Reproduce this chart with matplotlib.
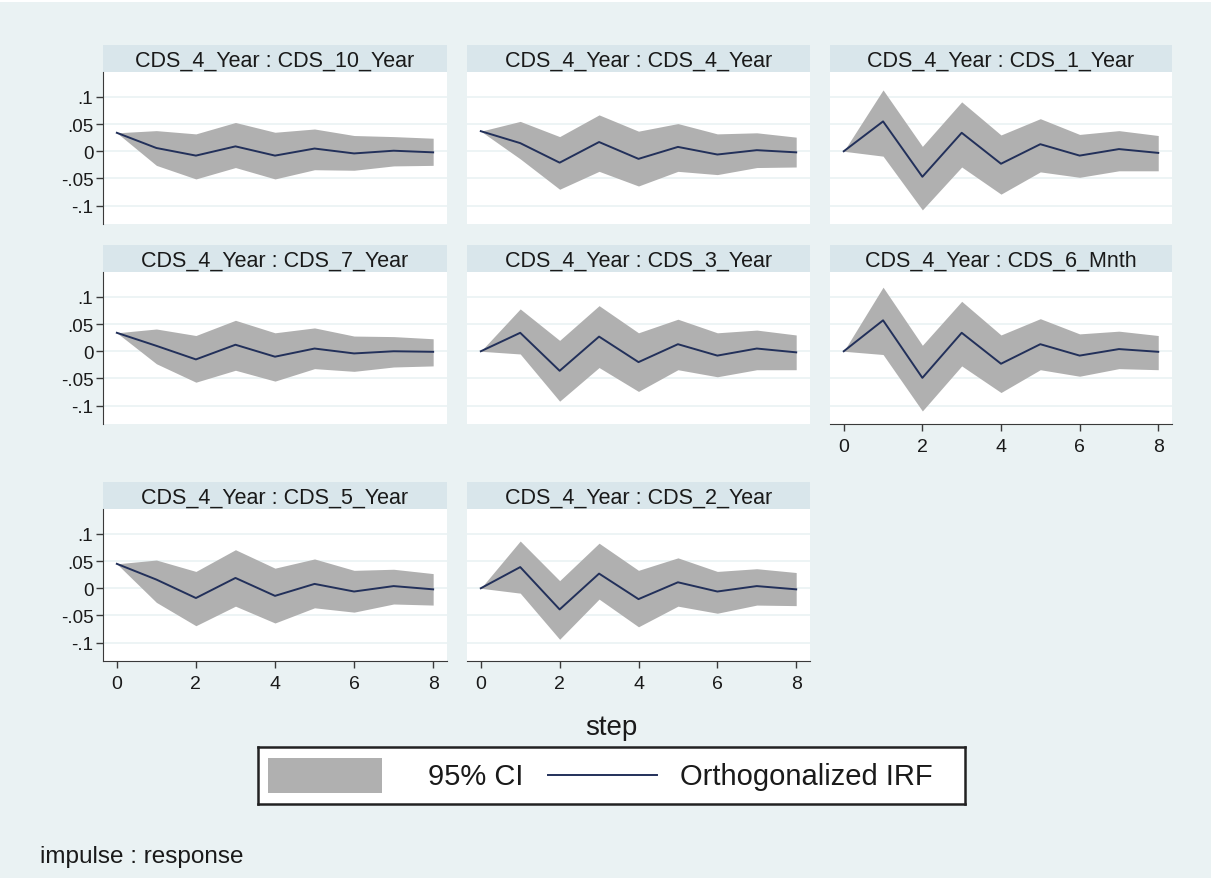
import numpy as np
import matplotlib.pyplot as plt
from matplotlib.patches import Rectangle
from matplotlib.lines import Line2D

plt.rcParams['font.family'] = ['Liberation Sans', 'DejaVu Sans']

steps = [0, 1, 2, 3, 4, 5, 6, 7, 8]

titles = ["CDS_4_Year : CDS_10_Year", "CDS_4_Year : CDS_4_Year", "CDS_4_Year : CDS_1_Year",
          "CDS_4_Year : CDS_7_Year", "CDS_4_Year : CDS_3_Year", "CDS_4_Year : CDS_6_Mnth",
          "CDS_4_Year : CDS_5_Year", "CDS_4_Year : CDS_2_Year"]

# orthogonalized irf, one list per panel
irf_10y = [0.034, 0.006, -0.008, 0.009, -0.008, 0.005, -0.004, 0.001, -0.002]
irf_4y = [0.037, 0.015, -0.021, 0.017, -0.014, 0.008, -0.006, 0.002, -0.002]
irf_1y = [0.0, 0.055, -0.047, 0.034, -0.023, 0.013, -0.008, 0.004, -0.003]
irf_7y = [0.034, 0.010, -0.015, 0.012, -0.010, 0.005, -0.004, 0.000, -0.001]
irf_3y = [0.0, 0.034, -0.036, 0.027, -0.020, 0.013, -0.008, 0.005, -0.002]
irf_6m = [0.0, 0.057, -0.049, 0.034, -0.023, 0.013, -0.008, 0.004, -0.001]
irf_5y = [0.045, 0.016, -0.018, 0.019, -0.014, 0.008, -0.006, 0.004, -0.002]
irf_2y = [0.0, 0.039, -0.039, 0.027, -0.020, 0.011, -0.006, 0.004, -0.002]

# 95% ci bounds
hi_10y = [0.034, 0.038, 0.032, 0.053, 0.035, 0.041, 0.029, 0.027, 0.024]
lo_10y = [0.034, -0.026, -0.051, -0.030, -0.051, -0.034, -0.035, -0.027, -0.026]
hi_4y = [0.037, 0.055, 0.027, 0.067, 0.037, 0.051, 0.032, 0.034, 0.026]
lo_4y = [0.037, -0.014, -0.070, -0.037, -0.064, -0.037, -0.043, -0.030, -0.029]
hi_1y = [0.0, 0.113, 0.009, 0.091, 0.030, 0.060, 0.031, 0.038, 0.029]
lo_1y = [0.0, -0.009, -0.108, -0.029, -0.079, -0.038, -0.048, -0.036, -0.036]
hi_7y = [0.034, 0.041, 0.029, 0.057, 0.034, 0.043, 0.028, 0.027, 0.023]
lo_7y = [0.034, -0.023, -0.057, -0.035, -0.055, -0.032, -0.037, -0.029, -0.027]
hi_3y = [0.0, 0.078, 0.020, 0.084, 0.034, 0.059, 0.034, 0.039, 0.030]
lo_3y = [0.0, -0.005, -0.092, -0.030, -0.074, -0.034, -0.047, -0.034, -0.034]
hi_6m = [0.0, 0.118, 0.011, 0.092, 0.030, 0.060, 0.032, 0.037, 0.029]
lo_6m = [0.0, -0.006, -0.110, -0.027, -0.076, -0.034, -0.046, -0.032, -0.034]
hi_5y = [0.045, 0.052, 0.031, 0.071, 0.037, 0.054, 0.033, 0.035, 0.027]
lo_5y = [0.045, -0.026, -0.069, -0.033, -0.064, -0.036, -0.044, -0.029, -0.031]
hi_2y = [0.0, 0.087, 0.014, 0.083, 0.033, 0.056, 0.031, 0.036, 0.029]
lo_2y = [0.0, -0.009, -0.094, -0.020, -0.071, -0.033, -0.046, -0.031, -0.032]

irfs = [irf_10y, irf_4y, irf_1y, irf_7y, irf_3y, irf_6m, irf_5y, irf_2y]
his = [hi_10y, hi_4y, hi_1y, hi_7y, hi_3y, hi_6m, hi_5y, hi_2y]
los = [lo_10y, lo_4y, lo_1y, lo_7y, lo_3y, lo_6m, lo_5y, lo_2y]

yticks = [-0.1, -0.05, 0, 0.05, 0.1]
ytick_labels = ["-.1", "-.05", "0", ".05", ".1"]
xticks = [0, 2, 4, 6, 8]

W, H = 1211, 879
bg = '#eaf2f3'
strip_col = '#d9e6eb'
line_col = '#22305a'
ci_col = '#b0b0b0'
axis_col = '#3a3a3a'
txt_col = '#1a1a1a'

fig = plt.figure(figsize=(W / 100, H / 100), dpi=100)
fig.patch.set_facecolor(bg)


def rect(x0, y0, x1, y1):
    # pixel box (top-left origin) -> figure fraction
    return [x0 / W, 1 - y1 / H, (x1 - x0) / W, (y1 - y0) / H]


cols = [(103, 447), (467, 810), (830, 1172)]
rows = [(46, 73, 225), (246, 273, 425), (483, 510, 662)]

for i in range(8):
    r, c = divmod(i, 3)
    x0, x1 = cols[c]
    st, top, bot = rows[r]

    sax = fig.add_axes(rect(x0, st, x1, top))
    sax.set_facecolor(strip_col)
    sax.set_xticks([])
    sax.set_yticks([])
    for s in sax.spines.values():
        s.set_visible(False)
    sax.text(0.5, 0.45, titles[i], ha='center', va='center', fontsize=15.5, color=txt_col)

    ax = fig.add_axes(rect(x0, top, x1, bot))
    ax.set_facecolor('white')
    ax.fill_between(steps, los[i], his[i], color=ci_col, linewidth=0, zorder=2)
    ax.plot(steps, irfs[i], color=line_col, lw=1.4, zorder=3)
    ax.set_xlim(-0.35, 8.35)
    ax.set_ylim(-0.134, 0.146)
    for yv in yticks:
        ax.axhline(yv, color=bg, lw=1.2, zorder=1)
    for s in ax.spines.values():
        s.set_visible(False)

    if c == 0:
        ax.spines['left'].set_visible(True)
        ax.spines['left'].set_color(axis_col)
        ax.set_yticks(yticks)
        ax.set_yticklabels(ytick_labels)
        ax.tick_params(axis='y', direction='out', length=5, width=1, color=axis_col,
                       labelsize=13.5, labelcolor=txt_col, pad=2)
    else:
        ax.set_yticks([])

    if r == 2 or (r == 1 and c == 2):
        ax.spines['bottom'].set_visible(True)
        ax.spines['bottom'].set_color(axis_col)
        ax.set_xticks(xticks)
        ax.tick_params(axis='x', direction='out', length=5, width=1, color=axis_col,
                       labelsize=14, labelcolor=txt_col, pad=5)
    else:
        ax.set_xticks([])

fig.text(611 / W, 1 - 728 / H, "step", ha='center', va='center', fontsize=20, color=txt_col)
fig.text(40 / W, 1 - 857 / H, "impulse : response", ha='left', va='center', fontsize=17.5,
         color=txt_col)

# legend box
lax = fig.add_axes(rect(258, 748, 965, 805))
lax.set_facecolor('white')
lax.set_xlim(258, 965)
lax.set_ylim(805, 748)
lax.set_xticks([])
lax.set_yticks([])
for s in lax.spines.values():
    s.set_color('#222222')
    s.set_linewidth(1.8)
lax.add_patch(Rectangle((268, 759), 114, 35, facecolor=ci_col, edgecolor='none'))
lax.text(428, 777, "95% CI", ha='left', va='center', fontsize=21, color=txt_col)
lax.add_line(Line2D([548, 657], [776, 776], color=line_col, lw=1.4))
lax.text(680, 777, "Orthogonalized IRF", ha='left', va='center', fontsize=21, color=txt_col)

# thin white band at the very top
fig.patches.append(Rectangle((0, 1 - 3 / H), 1, 3 / H, transform=fig.transFigure,
                             facecolor='white', edgecolor='none'))

fig.savefig("out.png", dpi=100, facecolor=fig.get_facecolor())
